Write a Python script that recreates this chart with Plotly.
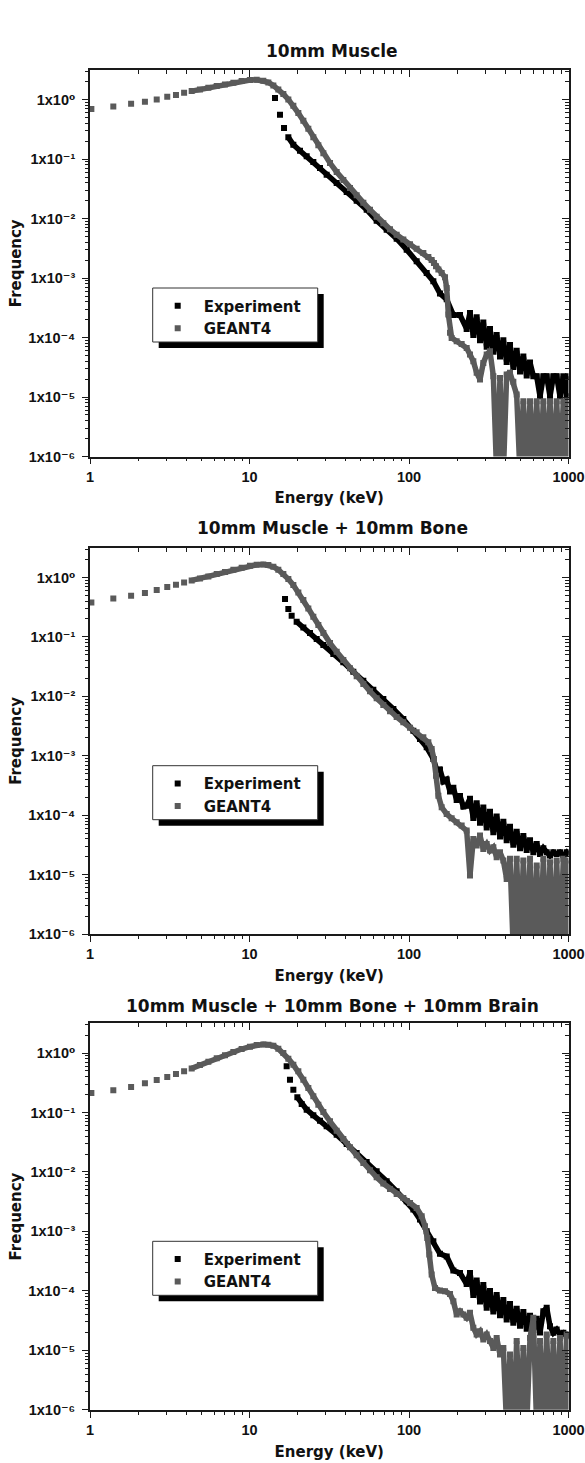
import plotly.graph_objects as go

FIG_W, FIG_H = 585, 1463

# ---------------- text / ticks ----------------
titles = ["10mm Muscle", "10mm Muscle + 10mm Bone", "10mm Muscle + 10mm Bone + 10mm Brain"]
series_names = ["Experiment", "GEANT4"]
x_label = "Energy (keV)"
y_label = "Frequency"
x_tick_vals = [1, 10, 100, 1000]
x_tick_text = ["1", "10", "100", "1000"]
y_tick_vals = [1e-6, 1e-5, 1e-4, 1e-3, 1e-2, 1e-1, 1e0]
y_tick_text = ["1x10\u207b\u2076", "1x10\u207b\u2075", "1x10\u207b\u2074", "1x10\u207b\u00b3",
               "1x10\u207b\u00b2", "1x10\u207b\u00b9", "1x10\u2070"]

# ---------------- data ----------------
# energies (keV) of the noisy high-energy tail, shared by every series
tail_energy = [241.2, 253.1, 265.6, 278.7, 292.4, 306.9, 322.0, 337.9, 354.5, 372.0, 390.4,
               409.6, 429.8, 451.0, 473.2, 496.6, 521.1, 546.8, 573.8, 602.0, 631.8, 662.9,
               695.6, 729.9, 765.6, 803.6, 843.0, 884.6, 928.2, 974.0, 995.0]

# Panel 1 : 10mm Muscle
p1_g4_energy = [1.02, 1.40, 1.81, 2.21, 2.62, 3.05, 3.46, 3.89, 4.34, 4.89, 5.52, 6.23, 7.02, 7.92,
                8.93, 10.07, 11.09, 12.21, 13.13, 14.11, 15.16, 16.30, 17.52, 18.83, 20.24, 21.76,
                23.38, 25.13, 27.02, 29.04, 31.97, 35.20, 38.75, 42.67, 46.98, 51.72, 56.95, 62.70,
                69.03, 76.01, 83.68, 92.14, 101.5, 111.7, 123.0, 132.2, 138.7, 143.4, 147.7, 152.8,
                160.3, 168.2, 172.3, 176.5, 180.8, 185.1, 199.0, 213.9, 229.9] + tail_energy
p1_g4_freq = [0.697, 0.773, 0.857, 0.926, 1.013, 1.123, 1.198, 1.311, 1.398, 1.492, 1.591, 1.697,
              1.810, 1.931, 2.059, 2.141, 2.168, 2.086, 1.956, 1.741, 1.492, 1.245, 1.013, 0.793,
              0.597, 0.444, 0.3256, 0.2328, 0.1708, 0.1253, 0.0862, 0.0609, 0.0447, 0.0328, 0.0247,
              0.0186, 0.01417, 0.01080, 0.00835, 0.00662, 0.00538, 0.00444, 0.00370, 0.00313,
              0.00265, 0.00227, 0.00202, 0.00180, 0.00158, 0.00139, 0.00122, 0.00103, 6.83e-4,
              2.44e-4, 1.20e-4, 9.87e-5, 8.68e-5, 7.83e-5, 6.70e-5,
              5.18e-5, 4.00e-5, 2.55e-5, 1.97e-5, 3.75e-5, 5.18e-5, 5.89e-5, 2.24e-5, 5e-7, 2.10e-5,
              5e-7, 2.39e-5, 2.55e-5, 1.80e-5, 1.10e-5, 5e-7, 8.5e-6, 5e-7, 8.5e-6, 5e-7, 8.5e-6,
              5e-7, 8.5e-6, 5e-7, 8.5e-6, 5e-7, 8.5e-6, 5e-7, 8.5e-6, 5e-7, 8.5e-6]
p1_exp_energy = [14.45, 15.53, 16.46, 17.52, 18.83, 20.73, 22.83, 25.13, 27.67, 30.46, 35.20, 40.67,
                 46.98, 54.28, 62.70, 72.44, 83.68, 96.7, 111.7, 129.1, 142.1, 156.4, 172.3, 189.7,
                 208.8, 229.9] + tail_energy
p1_exp_freq = [1.067, 0.560, 0.334, 0.233, 0.1753, 0.1390, 0.1116, 0.0896, 0.0710, 0.0549, 0.0398,
               0.0281, 0.0201, 0.01417, 0.00926, 0.00653, 0.00461, 0.00301, 0.00192, 0.00122,
               8.85e-4, 5.5e-4, 4.4e-4, 2.4e-4, 2.4e-4, 1.4e-4,
               2.6e-4, 1.1e-4, 2.2e-4, 9.0e-5, 1.8e-4, 7.0e-5, 1.4e-4, 5.8e-5, 1.1e-4,
               4.8e-5, 9.0e-5, 3.9e-5, 7.5e-5, 3.2e-5, 6.0e-5, 2.7e-5, 4.8e-5, 2.3e-5,
               3.8e-5, 2.24e-5, 2.24e-5, 1.03e-5, 2.24e-5, 2.24e-5, 1.03e-5, 2.24e-5, 2.24e-5,
               1.03e-5, 2.24e-5, 1.03e-5, 2.24e-5]

# Panel 2 : 10mm Muscle + 10mm Bone
p2_g4_energy = [1.02, 1.40, 1.81, 2.21, 2.62, 3.05, 3.46, 3.89, 4.34, 4.89, 5.52, 6.23, 7.02, 7.92,
                8.93, 10.07, 11.09, 12.21, 13.13, 14.11, 15.16, 16.30, 17.52, 18.83, 20.24, 21.76,
                23.38, 25.13, 27.02, 29.04, 31.97, 35.20, 38.75, 42.67, 46.98, 51.72, 56.95, 62.70,
                69.03, 76.01, 83.68, 92.14, 101.5, 111.7, 123.0, 132.2, 138.7, 143.4, 147.7, 152.8,
                160.3, 172.3, 185.1, 199.0, 213.9, 229.9] + tail_energy
p2_g4_freq = [0.380, 0.444, 0.492, 0.545, 0.613, 0.688, 0.753, 0.824, 0.890, 0.962, 1.039, 1.138,
              1.229, 1.345, 1.454, 1.571, 1.633, 1.654, 1.612, 1.511, 1.345, 1.138, 0.937, 0.743,
              0.560, 0.416, 0.301, 0.218, 0.158, 0.1160, 0.0787, 0.0563, 0.0408, 0.0296, 0.0217,
              0.01612, 0.01213, 0.00926, 0.00715, 0.00560, 0.00449, 0.00366, 0.00297, 0.00248,
              0.00205, 0.00169, 0.00130, 8.85e-4, 4.64e-4, 2.14e-4, 1.36e-4, 1.05e-4, 8.90e-5,
              7.63e-5, 6.70e-5, 5.53e-5,
              9.68e-6, 4.00e-5, 3.09e-5, 4.55e-5, 2.72e-5, 3.30e-5, 2.55e-5, 2.90e-5, 1.97e-5,
              2.39e-5, 1.73e-5, 8.5e-6, 1.85e-5, 5e-7, 1.85e-5, 5e-7, 1.73e-5, 5e-7, 1.85e-5, 5e-7,
              1.43e-5, 5e-7, 1.85e-5, 5e-7, 1.62e-5, 5e-7, 1.73e-5, 5e-7, 1.85e-5, 5e-7, 1.73e-5]
p2_exp_energy = [16.70, 17.52, 18.38, 19.75, 21.76, 23.95, 26.37, 29.04, 33.54, 38.75, 44.77, 51.72,
                 59.76, 69.03, 79.8, 92.14, 106.5, 117.2, 129.1, 142.1, 149.1, 156.4, 164.2, 172.3,
                 180.8, 189.7, 199.0, 208.8, 219.1, 229.9] + tail_energy
p2_exp_freq = [0.432, 0.294, 0.2268, 0.1798, 0.1444, 0.1160, 0.0920, 0.0729, 0.0515, 0.0373, 0.0260,
               0.01834, 0.01294, 0.00902, 0.00613, 0.00416, 0.00265, 0.00192, 0.00139, 8.85e-4,
               5.8e-4, 5.9e-4, 3.7e-4, 4.0e-4, 2.5e-4, 2.9e-4, 1.8e-4, 2.1e-4, 1.4e-4, 1.45e-4,
               1.9e-4, 9.0e-5, 1.6e-4, 7.5e-5, 1.35e-4, 6.2e-5, 1.15e-4, 5.2e-5, 9.5e-5,
               4.4e-5, 7.8e-5, 3.8e-5, 6.4e-5, 3.2e-5, 5.3e-5, 2.8e-5, 4.5e-5, 2.6e-5,
               3.8e-5, 2.4e-5, 3.3e-5, 2.24e-5, 2.8e-5, 2.39e-5, 2.10e-5, 2.39e-5, 2.24e-5,
               2.39e-5, 2.10e-5, 2.39e-5, 2.24e-5]

# Panel 3 : 10mm Muscle + 10mm Bone + 10mm Brain
p3_g4_energy = [1.02, 1.40, 1.81, 2.21, 2.62, 3.05, 3.46, 3.89, 4.34, 4.89, 5.52, 6.23, 7.02, 7.92,
                8.93, 10.07, 11.09, 12.21, 13.13, 14.11, 15.16, 16.30, 17.52, 18.83, 20.24, 21.76,
                23.38, 25.13, 27.02, 29.04, 31.97, 35.20, 38.75, 42.67, 46.98, 51.72, 56.95, 62.70,
                69.03, 76.01, 83.68, 92.14, 101.5, 111.7, 120.1, 126.0, 130.3, 134.1, 138.7, 145.5,
                156.4, 168.2, 180.8, 189.7, 199.0, 208.8, 219.1, 229.9] + tail_energy
p3_g4_freq = [0.2127, 0.2358, 0.2683, 0.309, 0.352, 0.395, 0.444, 0.492, 0.552, 0.629, 0.715, 0.814,
              0.914, 1.039, 1.167, 1.278, 1.363, 1.398, 1.381, 1.328, 1.183, 1.000, 0.803, 0.637,
              0.492, 0.356, 0.258, 0.187, 0.1354, 0.1020, 0.0710, 0.0495, 0.0359, 0.0260, 0.01906,
              0.01417, 0.01067, 0.00814, 0.00637, 0.00518, 0.00427, 0.00366, 0.00301, 0.00248,
              0.00180, 0.00122, 7.77e-4, 4.08e-4, 1.88e-4, 1.12e-4, 1.01e-4, 9.87e-5, 8.90e-5,
              6.70e-5, 4.00e-5, 4.55e-5, 4.00e-5, 3.52e-5,
              4.27e-5, 2.39e-5, 1.85e-5, 2.10e-5, 1.52e-5, 1.85e-5, 1.43e-5, 1.10e-5, 1.62e-5,
              8.5e-6, 1.10e-5, 5e-7, 8.5e-6, 5e-7, 1.43e-5, 5e-7, 1.10e-5, 5e-7, 1.62e-5, 3.52e-5,
              5e-7, 1.43e-5, 5e-7, 1.85e-5, 5e-7, 1.43e-5, 5e-7, 1.62e-5, 5e-7, 1.85e-5, 5e-7]
p3_exp_energy = [17.10, 17.94, 18.83, 19.95, 21.24, 22.83, 25.13, 27.67, 30.46, 35.20, 40.67, 46.98,
                 54.28, 62.70, 72.44, 83.68, 96.7, 106.5, 117.2, 129.1, 142.1, 156.4, 172.3, 189.7,
                 208.8, 229.9] + tail_energy
p3_exp_freq = [0.597, 0.356, 0.242, 0.1798, 0.1390, 0.1116, 0.0896, 0.0729, 0.0585, 0.0424, 0.0296,
               0.0209, 0.01473, 0.01026, 0.00697, 0.00473, 0.00321, 0.00233, 0.00158, 0.00101,
               6.83e-4, 4.2e-4, 3.8e-4, 2.2e-4, 2.0e-4, 1.3e-4,
               2.0e-4, 8.5e-5, 1.5e-4, 6.6e-5, 1.25e-4, 5.2e-5, 1.0e-4, 4.5e-5, 8.5e-5,
               3.9e-5, 7.0e-5, 3.3e-5, 6.0e-5, 2.9e-5, 5.0e-5, 2.6e-5, 4.4e-5, 2.3e-5,
               3.8e-5, 2.2e-5, 3.4e-5, 2.0e-5, 4.55e-5, 5.18e-5, 2.55e-5, 1.97e-5, 2.24e-5,
               1.85e-5, 1.97e-5, 1.73e-5, 1.85e-5]

panels = [
    (p1_exp_energy, p1_exp_freq, p1_g4_energy, p1_g4_freq),
    (p2_exp_energy, p2_exp_freq, p2_g4_energy, p2_g4_freq),
    (p3_exp_energy, p3_exp_freq, p3_g4_energy, p3_g4_freq),
]

# ---------------- styling ----------------
EXP_COLOR = "#000000"
G4_COLOR = "#5a5a5a"
AX_COLOR = "#1a1a1a"
EXP_LINE_START = 3   # first experimental points are isolated squares
G4_LINE_START = 8    # first GEANT4 points are isolated squares
LINE_W = 5.5

PLOT_L, PLOT_R = 90, 568.5
PLOT_H = 386.5
PLOT_TOPS = [70, 547.7, 1023.3]
TITLE_Y = [51, 528, 1006]
LEG_BOX_W, LEG_BOX_H = 165, 54
LEG_BOX_DY = 218
LEG_BOX_X = 152.7
SHADOW = 6

title_font = dict(family="DejaVu Sans", size=17, color="#111111", weight="bold")
axis_title_font = dict(family="DejaVu Sans", size=15, color="#111111", weight="bold")
tick_font = dict(family="Liberation Sans, DejaVu Sans", size=14.5, color="#111111", weight="bold")
legend_font = dict(family="DejaVu Sans", size=15, color="#111111", weight="bold")

x_minor = [m * 10 ** k for k in range(0, 3) for m in range(2, 10)]
y_minor = [m * 10.0 ** k for k in range(-6, 1) for m in range(2, 10) if m * 10.0 ** k < 3.2]

fig = go.Figure()
layout = dict(
    width=FIG_W, height=FIG_H, autosize=False,
    margin=dict(l=0, r=0, t=0, b=0, autoexpand=False),
    paper_bgcolor="white", plot_bgcolor="white",
    showlegend=True,
    annotations=[], shapes=[],
)

for i, (exp_e, exp_f, g4_e, g4_f) in enumerate(panels):
    sfx = "" if i == 0 else str(i + 1)
    top_sfx = str(i + 4)
    leg = "legend" if i == 0 else "legend" + str(i + 1)
    xa, ya = "x" + sfx, "y" + sfx

    fig.add_trace(go.Scatter(x=exp_e[EXP_LINE_START:], y=exp_f[EXP_LINE_START:], mode="lines",
                             line=dict(color=EXP_COLOR, width=LINE_W), showlegend=False,
                             hoverinfo="skip", xaxis=xa, yaxis=ya))
    fig.add_trace(go.Scatter(x=exp_e, y=exp_f, mode="markers", name=series_names[0],
                             marker=dict(symbol="square", size=6, color=EXP_COLOR),
                             legend=leg, legendgroup="exp" + sfx, xaxis=xa, yaxis=ya))
    fig.add_trace(go.Scatter(x=g4_e[G4_LINE_START:], y=g4_f[G4_LINE_START:], mode="lines",
                             line=dict(color=G4_COLOR, width=LINE_W), showlegend=False,
                             hoverinfo="skip", xaxis=xa, yaxis=ya))
    fig.add_trace(go.Scatter(x=g4_e, y=g4_f, mode="markers", name=series_names[1],
                             marker=dict(symbol="square", size=6, color=G4_COLOR),
                             legend=leg, legendgroup="g4" + sfx, xaxis=xa, yaxis=ya))
    # empty traces so the mirror (top / right) axes get drawn
    fig.add_trace(go.Scatter(x=[], y=[], xaxis="x" + top_sfx, yaxis=ya, showlegend=False))
    fig.add_trace(go.Scatter(x=[], y=[], xaxis=xa, yaxis="y" + top_sfx, showlegend=False))

    top = PLOT_TOPS[i]
    dom_y = [1 - (top + PLOT_H) / FIG_H, 1 - top / FIG_H]
    dom_x = [PLOT_L / FIG_W, PLOT_R / FIG_W]
    common = dict(showline=True, linecolor=AX_COLOR, linewidth=1.6, showgrid=False,
                  zeroline=False, tickcolor=AX_COLOR, tickwidth=1.4, automargin=False)
    layout["xaxis" + sfx] = dict(
        domain=dom_x, anchor=ya, type="log", range=[0, 3],
        tickmode="array", tickvals=x_tick_vals, ticktext=x_tick_text,
        ticks="outside", ticklen=6, tickfont=tick_font,
        minor=dict(tickmode="array", tickvals=x_minor, ticks="outside", ticklen=3,
                   tickwidth=1.2, tickcolor=AX_COLOR, showgrid=False),
        title=dict(text=x_label, font=axis_title_font, standoff=9), **common)
    layout["yaxis" + sfx] = dict(
        domain=dom_y, anchor=xa, type="log", range=[-6, 0.5],
        tickmode="array", tickvals=y_tick_vals, ticktext=y_tick_text,
        ticks="outside", ticklen=6, tickfont=tick_font, ticklabelstandoff=4,
        minor=dict(tickmode="array", tickvals=y_minor, ticks="outside", ticklen=3,
                   tickwidth=1.2, tickcolor=AX_COLOR, showgrid=False),
        title=dict(text=y_label, font=axis_title_font, standoff=3), **common)
    layout["xaxis" + top_sfx] = dict(
        overlaying=xa, anchor=ya, side="top", type="log", range=[0, 3],
        tickmode="array", tickvals=x_tick_vals, ticks="inside", ticklen=7, showticklabels=False,
        minor=dict(tickmode="array", tickvals=x_minor, ticks="inside", ticklen=4,
                   tickwidth=1.2, tickcolor=AX_COLOR, showgrid=False), **common)
    layout["yaxis" + top_sfx] = dict(
        overlaying=ya, anchor=xa, side="right", type="log", range=[-6, 0.5],
        tickmode="array", tickvals=y_tick_vals, ticks="inside", ticklen=7, showticklabels=False,
        minor=dict(tickmode="array", tickvals=y_minor, ticks="inside", ticklen=4,
                   tickwidth=1.2, tickcolor=AX_COLOR, showgrid=False), **common)

    # panel title
    layout["annotations"].append(dict(
        text=titles[i], x=332 / FIG_W, y=1 - TITLE_Y[i] / FIG_H, xref="paper", yref="paper",
        xanchor="center", yanchor="middle", showarrow=False, font=title_font))

    # legend box with drop shadow
    bx0 = LEG_BOX_X
    by0 = top + LEG_BOX_DY
    bx1, by1 = bx0 + LEG_BOX_W, by0 + LEG_BOX_H
    layout["shapes"].append(dict(
        type="rect", xref="paper", yref="paper", layer="above",
        x0=(bx0 + SHADOW) / FIG_W, x1=(bx1 + SHADOW) / FIG_W,
        y0=1 - (by1 + SHADOW) / FIG_H, y1=1 - (by0 + SHADOW) / FIG_H,
        fillcolor="black", line=dict(width=0)))
    layout["shapes"].append(dict(
        type="rect", xref="paper", yref="paper", layer="above",
        x0=bx0 / FIG_W, x1=bx1 / FIG_W, y0=1 - by1 / FIG_H, y1=1 - by0 / FIG_H,
        fillcolor="white", line=dict(color="#333333", width=1)))
    layout[leg] = dict(
        x=(bx0 - 1) / FIG_W, y=1 - (by0 + 1.5) / FIG_H, xanchor="left", yanchor="top",
        bgcolor="rgba(0,0,0,0)", borderwidth=0, font=legend_font,
        itemwidth=42, tracegroupgap=0, itemclick=False, itemdoubleclick=False)

fig.update_layout(**layout)
fig.write_html("out.html", config={"displayModeBar": False},
               post_script="document.body.style.margin='0px';")
